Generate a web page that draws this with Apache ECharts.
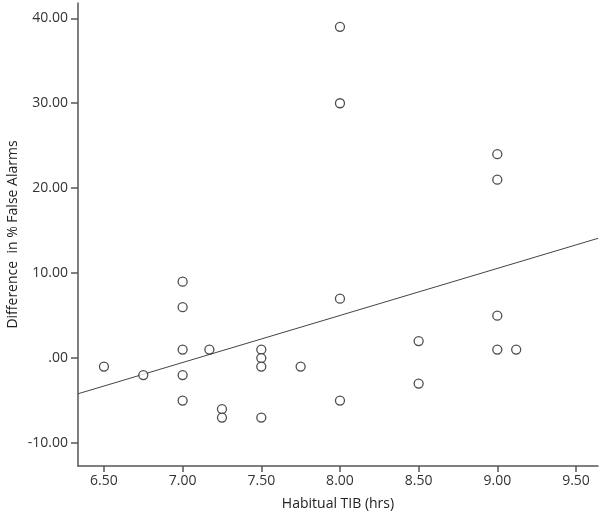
<!DOCTYPE html>
<html>
<head>
<meta charset="utf-8">
<script src="https://cdn.jsdelivr.net/npm/echarts@6/dist/echarts.min.js"></script>
<style>html,body{margin:0;padding:0;background:#fff}#c{width:600px;height:513px}</style>
</head>
<body>
<div id="c"></div>
<script>
// Data
var tibHours = [6.5, 6.75, 7.0, 7.0, 7.0, 7.0, 7.0, 7.17, 7.25, 7.25, 7.5, 7.5, 7.5, 7.5, 7.75, 8.0, 8.0, 8.0, 8.0, 8.5, 8.5, 9.0, 9.0, 9.0, 9.0, 9.12];
var falseAlarmDiff = [-1, -2, 9, 6, 1, -2, -5, 1, -6, -7, 1, 0, -1, -7, -1, 39, 30, 7, -5, 2, -3, 24, 21, 5, 1, 1];
var fitLineX = [6.335, 9.64];
var fitLineY = [-4.2, 14.1];
var xTicks = [6.5, 7.0, 7.5, 8.0, 8.5, 9.0, 9.5];
var yTicks = [-10, 0, 10, 20, 30, 40];

function fmtY(v){ if (v === 0) return '.00'; return v.toFixed(2); }

var points = tibHours.map(function(x, i){ return [x, falseAlarmDiff[i]]; });
var fit = fitLineX.map(function(x, i){ return [x, fitLineY[i]]; });

var chart = echarts.init(document.getElementById('c'), null, {renderer: 'canvas'});
var axisColor = '#555';
var labelColor = '#333';
chart.setOption({
  animation: false,
  backgroundColor: '#fff',
  grid: {left: 78, right: 2, top: 3, bottom: 47, containLabel: false, outerBoundsMode: 'none'},
  xAxis: {
    type: 'value', min: 6.335, max: 9.64,
    name: 'Habitual TIB (hrs)', nameLocation: 'middle', nameGap: 31, nameMoveOverlap: false,
    nameTextStyle: {fontFamily: 'Open Sans', fontSize: 14, color: '#222'},
    axisLine: {show: true, onZero: false, lineStyle: {color: axisColor, width: 1.5}},
    axisTick: {show: true, length: 6, lineStyle: {color: axisColor, width: 1.5}, customValues: xTicks},
    axisLabel: {color: labelColor, fontFamily: 'Open Sans', fontSize: 14, margin: 8, customValues: xTicks,
      formatter: function(v){ return v.toFixed(2); }},
    splitLine: {show: false}
  },
  yAxis: {
    type: 'value', min: -12.7, max: 41.8,
    name: 'Difference  in % False Alarms', nameLocation: 'middle', nameGap: 58, nameRotate: 90, nameMoveOverlap: false,
    nameTextStyle: {fontFamily: 'Open Sans', fontSize: 14, color: '#222'},
    axisLine: {show: true, onZero: false, lineStyle: {color: axisColor, width: 1.5}},
    axisTick: {show: true, length: 7, lineStyle: {color: axisColor, width: 1.5}, customValues: yTicks},
    axisLabel: {color: labelColor, fontFamily: 'Open Sans', fontSize: 14, margin: 10, customValues: yTicks,
      formatter: fmtY},
    splitLine: {show: false}
  },
  series: [
    {
      type: 'line', data: fit, symbol: 'none', silent: true,
      lineStyle: {color: '#444', width: 1}, z: 1
    },
    {
      type: 'scatter', data: points, symbol: 'circle', symbolSize: 9,
      itemStyle: {color: '#fff', borderColor: '#222', borderWidth: 1.3}, z: 2
    }
  ]
});
</script>
</body>
</html>
